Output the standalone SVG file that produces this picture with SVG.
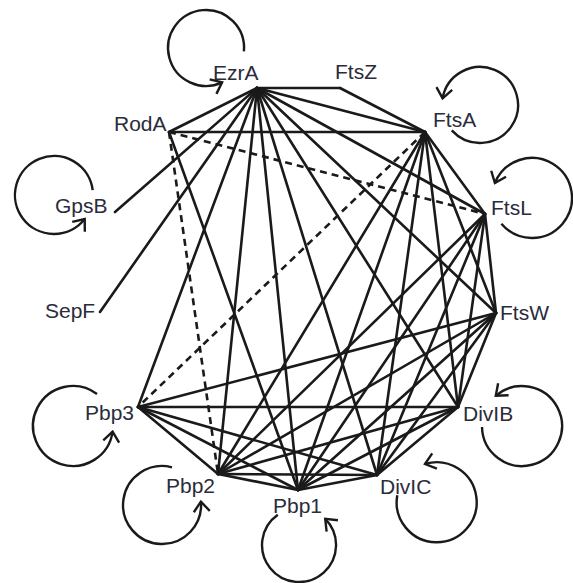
<svg xmlns="http://www.w3.org/2000/svg" width="573" height="583" viewBox="0 0 573 583">
  <defs>
    <marker id="head" viewBox="-13 -10 15 20" markerWidth="15" markerHeight="20" refX="0" refY="0" orient="auto" markerUnits="userSpaceOnUse">
      <path d="M -10 -8 L 0 0 L -10 8" fill="none" stroke="#1a1a1a" stroke-width="2.4"/>
    </marker>
    <style>
      .edge { stroke: #1a1a1a; stroke-width: 2.6; fill: none; stroke-linecap: round; }
      .weak { stroke-dasharray: 7 5; stroke-linecap: butt; }
      .loop { stroke: #1a1a1a; stroke-width: 2.4; fill: none; marker-end: url(#head); }
      .label { font-family: "Liberation Sans", Arial, sans-serif; font-size: 21px; fill: #2b2b3b; }
    </style>
  </defs>
  <rect width="573" height="583" fill="#ffffff"/>

  <!-- interaction edges -->
  <g id="connectors">
    <!-- EzrA -->
    <line class="edge" x1="257" y1="88" x2="340" y2="88"/>
    <line class="edge" x1="257" y1="88" x2="425" y2="132"/>
    <line class="edge" x1="257" y1="88" x2="485" y2="214"/>
    <line class="edge" x1="257" y1="88" x2="496" y2="313"/>
    <line class="edge" x1="257" y1="88" x2="458" y2="407"/>
    <line class="edge" x1="257" y1="88" x2="377" y2="475"/>
    <line class="edge" x1="257" y1="88" x2="298" y2="490"/>
    <line class="edge" x1="257" y1="88" x2="218" y2="474"/>
    <line class="edge" x1="257" y1="88" x2="138" y2="407"/>
    <line class="edge" x1="257" y1="88" x2="169" y2="132"/>
    <line class="edge" x1="257" y1="88" x2="115" y2="212"/>
    <line class="edge" x1="257" y1="88" x2="100" y2="312"/>
    <!-- FtsZ -->
    <line class="edge" x1="340" y1="88" x2="425" y2="132"/>
    <!-- RodA -->
    <line class="edge" x1="169" y1="132" x2="425" y2="132"/>
    <line class="edge" x1="169" y1="132" x2="298" y2="490"/>
    <line class="edge weak" x1="169" y1="132" x2="485" y2="214"/>
    <line class="edge weak" x1="169" y1="132" x2="218" y2="474"/>
    <!-- FtsA -->
    <line class="edge" x1="425" y1="132" x2="485" y2="214"/>
    <line class="edge" x1="425" y1="132" x2="496" y2="313"/>
    <line class="edge" x1="425" y1="132" x2="458" y2="407"/>
    <line class="edge" x1="425" y1="132" x2="377" y2="475"/>
    <line class="edge" x1="425" y1="132" x2="298" y2="490"/>
    <line class="edge" x1="425" y1="132" x2="218" y2="474"/>
    <line class="edge weak" x1="425" y1="132" x2="138" y2="407"/>
    <!-- FtsL -->
    <line class="edge" x1="485" y1="214" x2="496" y2="313"/>
    <line class="edge" x1="485" y1="214" x2="458" y2="407"/>
    <line class="edge" x1="485" y1="214" x2="377" y2="475"/>
    <line class="edge" x1="485" y1="214" x2="298" y2="490"/>
    <line class="edge" x1="485" y1="214" x2="218" y2="474"/>
    <!-- FtsW -->
    <line class="edge" x1="496" y1="313" x2="458" y2="407"/>
    <line class="edge" x1="496" y1="313" x2="377" y2="475"/>
    <line class="edge" x1="496" y1="313" x2="298" y2="490"/>
    <line class="edge" x1="496" y1="313" x2="218" y2="474"/>
    <line class="edge" x1="496" y1="313" x2="138" y2="407"/>
    <!-- DivIB -->
    <line class="edge" x1="458" y1="407" x2="377" y2="475"/>
    <line class="edge" x1="458" y1="407" x2="298" y2="490"/>
    <line class="edge" x1="458" y1="407" x2="218" y2="474"/>
    <line class="edge" x1="458" y1="407" x2="138" y2="407"/>
    <!-- DivIC -->
    <line class="edge" x1="377" y1="475" x2="298" y2="490"/>
    <line class="edge" x1="377" y1="475" x2="218" y2="474"/>
    <line class="edge" x1="377" y1="475" x2="138" y2="407"/>
    <!-- Pbp1 / Pbp2 -->
    <line class="edge" x1="298" y1="490" x2="218" y2="474"/>
    <line class="edge" x1="298" y1="490" x2="138" y2="407"/>
    <line class="edge" x1="218" y1="474" x2="138" y2="407"/>
  </g>

  <g id="EzrA">
    <path class="loop" d="M 243.9 51.3 A 38 38 0 1 0 222.1 82.4"/>
    <text class="label" x="213" y="80">EzrA</text>
  </g>
  <g id="FtsZ">
    <text class="label" x="335" y="79">FtsZ</text>
  </g>
  <g id="RodA">
    <text class="label" x="114" y="131">RodA</text>
  </g>
  <g id="FtsA">
    <path class="loop" d="M 451.8 130.4 A 38 38 0 1 0 442.6 98.4"/>
    <text class="label" x="433" y="127">FtsA</text>
  </g>
  <g id="FtsL">
    <path class="loop" d="M 501.4 223.7 A 40 40 0 1 0 494.9 183"/>
    <text class="label" x="491" y="215">FtsL</text>
  </g>
  <g id="FtsW">
    <text class="label" x="500" y="320">FtsW</text>
  </g>
  <g id="GpsB">
    <path class="loop" d="M 92.7 190.2 A 39 39 0 1 0 84.7 219"/>
    <text class="label" x="55" y="213">GpsB</text>
  </g>
  <g id="SepF">
    <text class="label" x="45" y="318">SepF</text>
  </g>
  <g id="Pbp3">
    <path class="loop" d="M 97 394 A 40 40 0 1 0 112.6 431.6"/>
    <text class="label" x="85" y="420">Pbp3</text>
  </g>
  <g id="Pbp2">
    <path class="loop" d="M 172 467.3 A 39 39 0 1 0 200.9 501.6"/>
    <text class="label" x="166" y="493">Pbp2</text>
  </g>
  <g id="Pbp1">
    <path class="loop" d="M 277.8 514.7 A 37 37 0 1 0 325.2 518.8"/>
    <text class="label" x="273" y="513">Pbp1</text>
  </g>
  <g id="DivIC">
    <path class="loop" d="M 397.3 495.2 A 40 40 0 1 0 425 464"/>
    <text class="label" x="380" y="494">DivIC</text>
  </g>
  <g id="DivIB">
    <path class="loop" d="M 482 427 A 40 40 0 1 0 495.8 395.8"/>
    <text class="label" x="463" y="421">DivIB</text>
  </g>
</svg>
